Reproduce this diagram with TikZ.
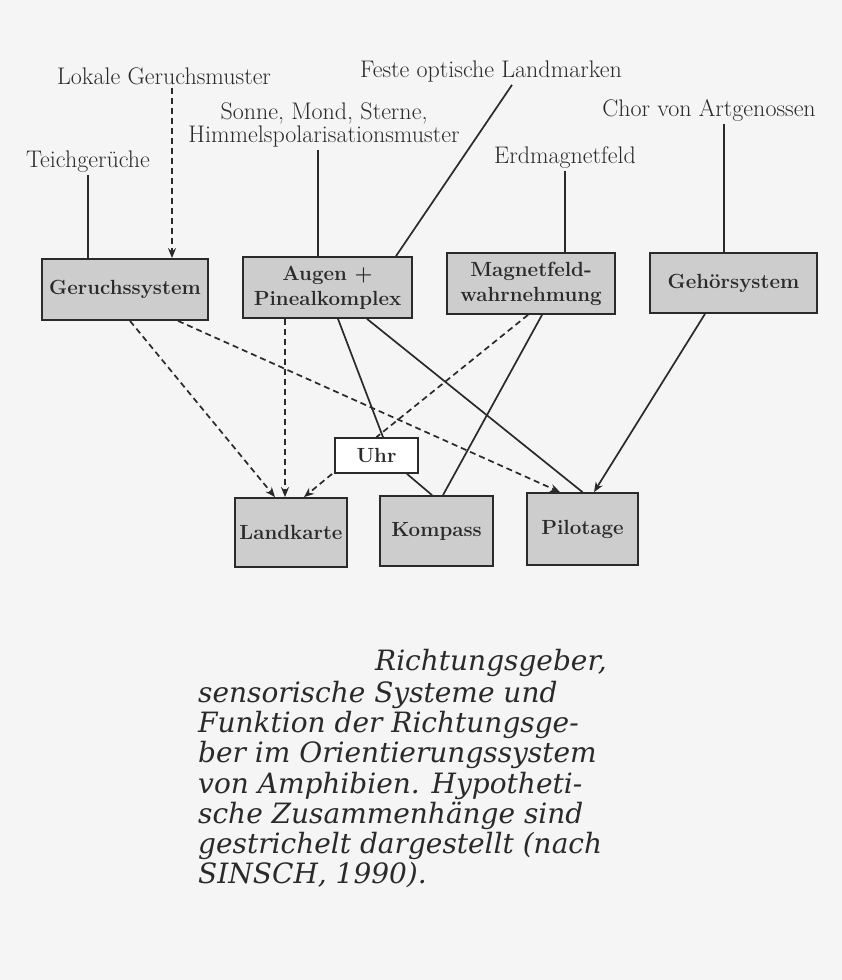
\documentclass[tikz,border=0pt]{standalone}
\usepackage{fontspec}
\newfontfamily\capfont{DejaVu Serif}
\usetikzlibrary{arrows.meta,calc}
\definecolor{ink}{HTML}{2A2A2A}
\definecolor{boxgray}{HTML}{CDCDCD}
\definecolor{bg}{HTML}{F5F5F5}
\begin{document}
\begin{tikzpicture}[x=1pt,y=-1pt,
  lbl/.style={font=\fontsize{24}{20}\selectfont, inner sep=3pt, align=center, text=ink, anchor=base},
  sbox/.style={draw=ink, line width=1.8pt, fill=boxgray, font=\fontsize{20.5}{25}\selectfont\bfseries, text=ink, align=center, inner sep=0pt},
  wbox/.style={sbox, fill=white},
  con/.style={draw=ink, line width=1.7pt},
  hyp/.style={con, dash pattern=on 6pt off 4pt},
  tip/.style={-{Stealth[length=10pt,width=8pt]}},
  captxt/.style={font=\capfont\itshape\fontsize{28}{30}\selectfont, text=ink, inner sep=0pt, anchor=base west}
]
\useasboundingbox (0,0) rectangle (842,980);
\fill[bg] (0,0) rectangle (842,980);

% source labels
\node[lbl] (lokale) at (164,84) {Lokale Geruchsmuster};
\node[lbl] (feste) at (491,77) {Feste optische Landmarken};
\node[lbl] (sonne) at (324,142) {Sonne, Mond, Sterne,\\Himmelspolarisationsmuster};
\node[lbl] (chor) at (709,116) {Chor von Artgenossen};
\node[lbl] (teich) at (88,167) {Teichgerüche};
\node[lbl] (erd) at (565,163) {Erdmagnetfeld};

% sensory systems
\node[sbox, minimum width=166pt, minimum height=61pt] (geruch) at (125,289.5) {Geruchssystem};
\node[sbox, minimum width=169pt, minimum height=61pt] (augen) at (327.5,287.5) {Augen +\\Pinealkomplex};
\node[sbox, minimum width=168pt, minimum height=61pt] (magnet) at (531,283.5) {Magnetfeld-\\wahrnehmung};
\node[sbox, minimum width=167pt, minimum height=60pt] (gehoer) at (733.5,283) {Gehörsystem};

% functions
\node[wbox, minimum width=83pt, minimum height=35pt] (uhr) at (376.5,455.5) {Uhr};
\node[sbox, minimum width=112pt, minimum height=69pt] (karte) at (291,532.5) {Landkarte};
\node[sbox, minimum width=113pt, minimum height=70pt] (kompass) at (436.5,531) {Kompass};
\node[sbox, minimum width=111pt, minimum height=72pt] (pilot) at (582.5,529) {Pilotage};

% upper connectors
\draw[con] (teich.south) -- (teich.south |- geruch.north);
\draw[hyp,tip] ($(lokale.south)+(8,0)$) -- ($(lokale.south |- geruch.north)+(8,0)$);
\draw[con] ($(sonne.south)+(-6,0)$) -- ($(sonne.south |- augen.north)+(-6,0)$);
\draw[con] ($(feste.south)+(21,0)$) -- ($(augen.north)+(68.5,0)$);
\draw[con] (erd.south) -- (erd.south |- magnet.north);
\draw[con] ($(chor.south)+(15,0)$) -- ($(chor.south |- gehoer.north)+(15,0)$);

% lower connectors
\draw[hyp,tip] ($(geruch.south)+(5,0)$) -- ($(karte.north)+(-16,0)$);
\draw[hyp,tip] ($(geruch.south)+(53,0)$) -- ($(pilot.north)+(-22.5,0)$);
\draw[hyp,tip] ($(augen.south)+(-42.5,0)$) -- ($(karte.north)+(-6,0)$);
\draw[con] ($(augen.south)+(10.5,0)$) -- ($(uhr.north)+(6.5,0)$);
\draw[con] ($(augen.south)+(39.5,0)$) -- (pilot.north);
\draw[hyp] ($(magnet.south)+(-3,0)$) -- (uhr.north);
\draw[con] ($(magnet.south)+(11,0)$) -- ($(kompass.north)+(6.5,0)$);
\draw[con,tip] ($(gehoer.south)+(-28.5,0)$) -- ($(pilot.north)+(11.5,0)$);
\draw[hyp,tip] ($(uhr.south west)+(-2,0)$) -- ($(karte.north)+(13,0)$);
\draw[con] ($(uhr.south)+(30.5,0)$) -- ($(kompass.north)+(-4.5,0)$);

% caption
\node[captxt] (cap1) at (375,670) {Richtungsgeber,};
\node[captxt] (cap2) at (198,702) {sensorische Systeme und};
\node[captxt] (cap3) at (198,732) {Funktion der Richtungsge-};
\node[captxt] (cap4) at (198,762) {ber im Orientierungssystem};
\node[captxt] (cap5) at (198,793) {von Amphibien. Hypotheti-};
\node[captxt] (cap6) at (198,823) {sche Zusammenhänge sind};
\node[captxt] (cap7) at (198,853) {gestrichelt dargestellt (nach};
\node[captxt] (cap8) at (198,883) {SINSCH, 1990).};
\end{tikzpicture}
\end{document}
